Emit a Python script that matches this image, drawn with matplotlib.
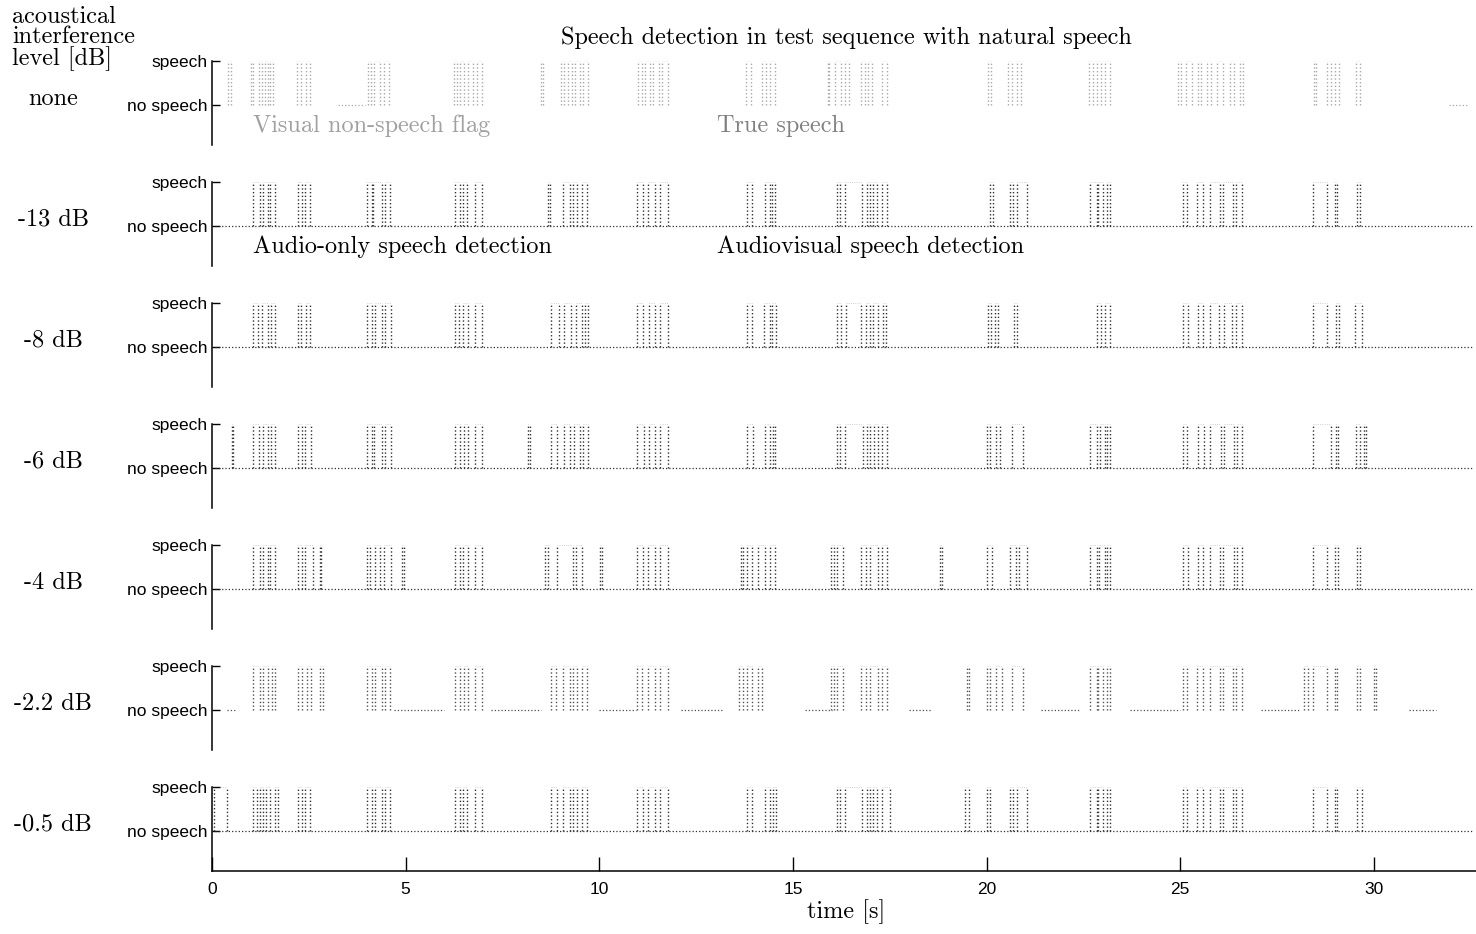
import matplotlib
matplotlib.use("Agg")
import matplotlib.pyplot as plt
from matplotlib import transforms

W, H = 1476, 934
T_MAX = 32.64

levels = ['none', '-13 dB', '-8 dB', '-6 dB', '-4 dB', '-2.2 dB', '-0.5 dB']

# switching times [s] of each speech burst, one list per burst (on/off pairs)
edges_none = [
    [0.42, 0.50],
    [1.00, 1.06, 1.22, 1.28, 1.36, 1.45, 1.50, 1.58],
    [2.20, 2.30, 2.42, 2.52],
    [4.02, 4.10, 4.18, 4.35, 4.45, 4.58],
    [6.25, 6.32, 6.40, 6.50, 6.60, 6.75, 6.85, 6.97],
    [8.50, 8.54, 9.00, 9.10, 9.18, 9.30, 9.38, 9.50, 9.58, 9.70],
    [11.00, 11.10, 11.18, 11.30, 11.40, 11.55, 11.62, 11.77],
    [13.80, 13.92, 14.20, 14.30, 14.40, 14.55],
    [15.90, 15.94, 16.10, 16.25, 16.35, 16.45, 16.75, 16.85, 16.95, 17.05, 17.30, 17.42],
    [20.05, 20.12, 20.55, 20.65, 20.80, 20.90],
    [22.65, 22.75, 22.85, 22.95, 23.05, 23.20],
    [24.95, 25.02, 25.15, 25.30, 25.45, 25.55, 25.70, 25.80, 25.95, 26.10, 26.30, 26.40, 26.55, 26.62],
    [28.45, 28.52, 28.80, 28.90, 29.00, 29.10, 29.55, 29.65],
]
edges_m13 = [
    [1.06, 1.24, 1.32, 1.45, 1.50, 1.62],
    [2.22, 2.32, 2.40, 2.53],
    [4.00, 4.13, 4.16, 4.39, 4.47, 4.60],
    [6.27, 6.40, 6.48, 6.58, 6.79, 6.97],
    [8.68, 8.72, 9.06, 9.24, 9.32, 9.42, 9.55, 9.68],
    [10.97, 11.13, 11.26, 11.44, 11.57, 11.77],
    [13.81, 13.94, 14.28, 14.41, 14.45, 14.54],
    [16.14, 16.21, 16.34, 16.78, 16.91, 16.99, 17.07, 17.17, 17.30, 17.43],
    [20.09, 20.17, 20.60, 20.68, 20.78, 21.04],
    [22.67, 22.85, 22.88, 23.01, 23.10, 23.19],
    [25.07, 25.17, 25.43, 25.59, 25.77, 26.03, 26.10, 26.36, 26.45, 26.59],
    [28.43, 28.79, 29.00, 29.05, 29.56, 29.64],
]
edges_m8 = [
    [1.06, 1.20, 1.30, 1.45, 1.52, 1.62],
    [2.22, 2.30, 2.42, 2.52],
    [4.00, 4.12, 4.20, 4.38, 4.47, 4.62],
    [6.27, 6.38, 6.48, 6.60, 6.80, 6.97],
    [8.76, 8.95, 9.10, 9.28, 9.40, 9.55, 9.62, 9.70],
    [10.97, 11.12, 11.28, 11.45, 11.58, 11.77],
    [13.81, 13.95, 14.25, 14.40, 14.46, 14.56],
    [16.14, 16.25, 16.36, 16.76, 16.90, 17.00, 17.08, 17.20, 17.32, 17.40],
    [20.05, 20.12, 20.22, 20.30, 20.70, 20.80],
    [22.85, 22.95, 23.05, 23.20],
    [25.07, 25.20, 25.45, 25.60, 25.78, 26.00, 26.12, 26.35, 26.45, 26.60],
    [28.43, 28.80, 29.02, 29.10, 29.52, 29.70],
]
edges_m6 = [
    [0.52, 0.55, 1.06, 1.22, 1.32, 1.45, 1.52, 1.62],
    [2.22, 2.32, 2.40, 2.55],
    [4.00, 4.13, 4.18, 4.40, 4.47, 4.62],
    [6.27, 6.40, 6.50, 6.60, 6.80, 6.97],
    [8.15, 8.20, 8.76, 8.90, 9.08, 9.25, 9.35, 9.50, 9.58, 9.70],
    [10.97, 11.15, 11.28, 11.45, 11.58, 11.77],
    [13.81, 13.96, 14.28, 14.40, 14.48, 14.55],
    [16.14, 16.22, 16.34, 16.80, 16.92, 17.00, 17.10, 17.20, 17.30, 17.43],
    [20.00, 20.10, 20.25, 20.35, 20.65, 20.95],
    [22.67, 22.85, 22.92, 23.05, 23.12, 23.20],
    [25.07, 25.18, 25.45, 25.62, 25.78, 26.05, 26.12, 26.38, 26.48, 26.60],
    [28.43, 28.90, 29.02, 29.08, 29.55, 29.64, 29.75, 29.80],
]
edges_m4 = [
    [1.06, 1.24, 1.32, 1.45, 1.50, 1.62],
    [2.22, 2.32, 2.40, 2.60, 2.78, 2.82],
    [4.00, 4.08, 4.20, 4.35, 4.45, 4.62, 4.90, 4.95],
    [6.27, 6.40, 6.48, 6.60, 6.79, 6.97],
    [8.60, 8.68, 8.90, 9.32, 9.40, 9.55, 10.02, 10.06],
    [10.97, 11.13, 11.26, 11.44, 11.57, 11.77],
    [13.65, 13.70, 13.81, 13.94, 14.10, 14.28, 14.41, 14.54],
    [15.98, 16.05, 16.14, 16.30, 16.76, 16.90, 17.00, 17.20, 17.30, 17.43],
    [18.80, 18.84],
    [20.02, 20.15, 20.60, 20.75, 20.85, 21.04],
    [22.67, 22.85, 22.90, 23.05, 23.12, 23.19],
    [25.07, 25.20, 25.45, 25.60, 25.78, 26.02, 26.10, 26.38, 26.46, 26.59],
    [28.43, 28.79, 29.00, 29.08, 29.56, 29.64],
]
edges_m2 = [
    [1.06, 1.24, 1.32, 1.45, 1.55, 1.62],
    [2.22, 2.32, 2.45, 2.55, 2.80, 2.86],
    [4.00, 4.13, 4.20, 4.40, 4.47, 4.60],
    [6.27, 6.40, 6.50, 6.60, 6.79, 6.97],
    [8.76, 8.88, 9.06, 9.24, 9.32, 9.42, 9.55, 9.68],
    [10.97, 11.10, 11.26, 11.44, 11.57, 11.77],
    [13.62, 13.70, 13.81, 13.94, 14.10, 14.20],
    [15.98, 16.05, 16.14, 16.30, 16.76, 16.90, 17.00, 17.20, 17.30, 17.43],
    [19.50, 19.55, 20.00, 20.10, 20.25, 20.40, 20.65, 20.95],
    [22.67, 22.85, 22.88, 23.01, 23.10, 23.19],
    [25.07, 25.17, 25.43, 25.59, 25.77, 26.03, 26.10, 26.36, 26.45, 26.59],
    [28.20, 28.30, 28.43, 28.79, 29.00, 29.05, 29.56, 29.64, 30.00, 30.05],
]
edges_m05 = [
    [0.05, 0.40, 1.06, 1.15, 1.24, 1.32, 1.40, 1.50, 1.62, 1.70],
    [2.22, 2.32, 2.40, 2.53],
    [4.00, 4.13, 4.20, 4.39, 4.47, 4.60],
    [6.27, 6.40, 6.48, 6.58, 6.79, 6.97],
    [8.76, 8.90, 9.06, 9.24, 9.32, 9.42, 9.55, 9.68],
    [10.97, 11.13, 11.26, 11.44, 11.57, 11.77],
    [13.81, 13.94, 14.28, 14.41, 14.48, 14.56],
    [16.14, 16.21, 16.34, 16.78, 16.91, 16.99, 17.07, 17.17, 17.30, 17.50],
    [19.45, 19.55, 20.00, 20.10, 20.60, 20.68, 20.78, 21.04],
    [22.67, 22.85, 22.88, 23.01, 23.10, 23.19],
    [25.07, 25.17, 25.43, 25.59, 25.77, 26.03, 26.10, 26.36, 26.45, 26.59],
    [28.43, 28.79, 29.00, 29.05, 29.56, 29.70],
]

# visible stretches of the "no speech" level for each row
base_none = [(3.25, 3.95), (31.95, 32.45)]
base_full = [(0.08, 32.55)]
base_m2 = [(0.40, 0.60), (4.70, 6.00), (7.20, 8.50), (10.00, 10.95), (12.10, 13.20),
           (15.30, 16.00), (18.00, 18.60), (21.40, 22.40), (23.70, 25.00),
           (27.10, 28.10), (30.90, 31.60)]

rows = [edges_none, edges_m13, edges_m8, edges_m6, edges_m4, edges_m2, edges_m05]
bases = [base_none, base_full, base_full, base_full, base_full, base_m2, base_full]
colors = ['#a8a8a8', '#303030', '#303030', '#303030', '#303030', '#505050', '#303030']

SERIF = 'cmr10'
SANS = 'Liberation Sans'

fig = plt.figure(figsize=(W / 100, H / 100), dpi=100)

x0 = 212 / W
ax_w = (W - 212) / W
top0 = 61
gap = 121
ax_h = 84

axes = []
for i, (bursts, base, col) in enumerate(zip(rows, bases, colors)):
    top = top0 + gap * i
    ax = fig.add_axes([x0, 1 - (top + ax_h) / H, ax_w, ax_h / H])
    ax.set_xlim(0, T_MAX)
    ax.set_ylim(-0.93, 1.0)
    for b in bursts:
        # switching edges: the dense vertical strokes
        ax.vlines(b, 0, 1, colors=col, linestyles=':', lw=1.0)
        # speech plateaus are only faintly printed
        for a, e in zip(b[0::2], b[1::2]):
            ax.plot([a, e], [1, 1], ls=':', lw=0.6, color=col, alpha=0.3)
    for a, b in base:
        ax.plot([a, b], [0, 0], ls=':', lw=0.9, color=col)

    for s in ('top', 'right'):
        ax.spines[s].set_visible(False)
    ax.spines['left'].set_linewidth(1.1)
    ax.set_yticks([0, 1])
    ax.set_yticklabels(['no speech', 'speech'], fontfamily=SANS, fontsize=12.5)
    ax.tick_params(axis='y', direction='in', length=6, width=1, pad=3)

    if i < len(rows) - 1:
        ax.spines['bottom'].set_visible(False)
        ax.set_xticks([])
    else:
        ax.set_xticks(range(0, 31, 5))
        ax.tick_params(axis='x', direction='in', length=10, width=1, pad=8,
                       labelsize=12.5)
        for lab in ax.get_xticklabels():
            lab.set_fontfamily(SANS)
        ax.spines['bottom'].set_linewidth(1.1)

    # interference level next to each row, on the "no speech" baseline
    tr = transforms.blended_transform_factory(fig.transFigure, ax.transData)
    ax.text(53 / W, 0, levels[i], transform=tr, ha='center', va='baseline',
            fontfamily=SERIF, fontsize=17.5, clip_on=False)
    axes.append(ax)

# captions naming the traces, under the first two rows
axes[0].text(1.06, -0.62, 'Visual non-speech flag', fontfamily=SERIF,
             fontsize=17.5, color='#a0a0a0', va='baseline')
axes[0].text(13.04, -0.62, 'True speech', fontfamily=SERIF,
             fontsize=17.5, color='#808080', va='baseline')
axes[1].text(1.06, -0.62, 'Audio-only speech detection', fontfamily=SERIF,
             fontsize=17.5, va='baseline')
axes[1].text(13.04, -0.62, 'Audiovisual speech detection', fontfamily=SERIF,
             fontsize=17.5, va='baseline')

fig.text(846 / W, 1 - 44 / H, 'Speech detection in test sequence with natural speech',
         ha='center', va='baseline', fontfamily=SERIF, fontsize=17.5)
fig.text(12 / W, 1 - 6 / H, 'acoustical\ninterference\nlevel [dB]', ha='left',
         va='top', fontfamily=SERIF, fontsize=17.5, linespacing=0.88)
fig.text(846 / W, 1 - 918 / H, 'time [s]', ha='center', va='baseline',
         fontfamily=SERIF, fontsize=17.5)

fig.savefig('out.png', dpi=100)
